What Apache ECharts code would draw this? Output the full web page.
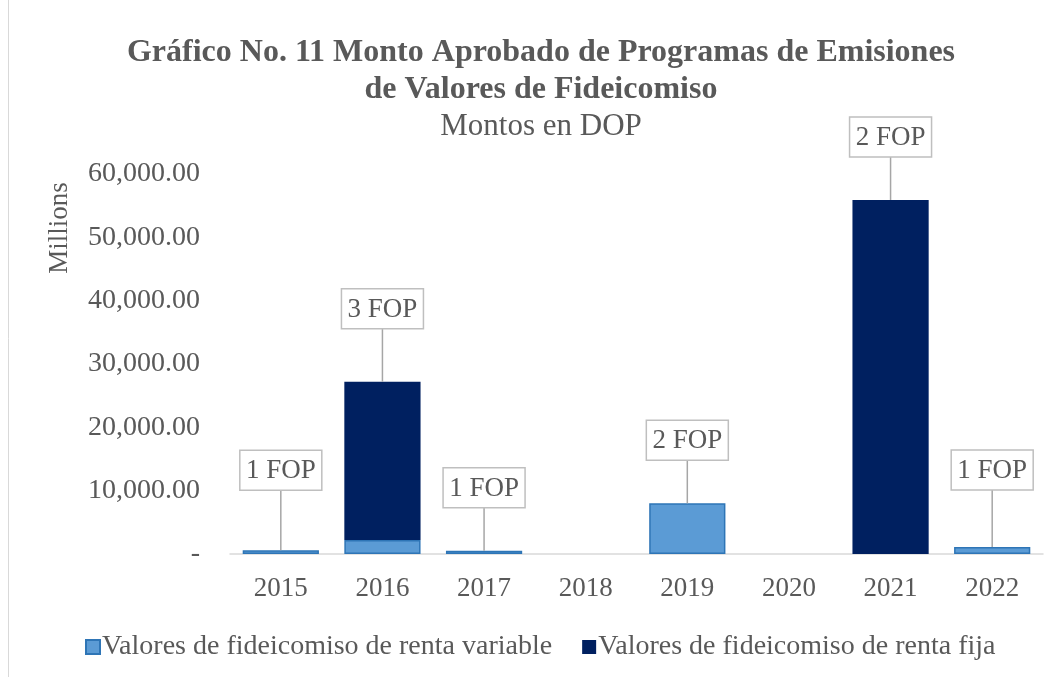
<!DOCTYPE html>
<html>
<head>
<meta charset="utf-8">
<script src="https://cdn.jsdelivr.net/npm/echarts@6/dist/echarts.min.js"></script>
<style>
  html, body { margin: 0; padding: 0; background: #fff; }
  #chart { width: 1050px; height: 677px; }
</style>
</head>
<body>
<div id="chart"></div>
<script>
  // datos (millones de DOP)
  var years = ["2015", "2016", "2017", "2018", "2019", "2020", "2021", "2022"];
  var rentaVariable = [600, 2200, 500, 0, 8000, 0, 0, 1100];
  var rentaFija = [0, 25000, 0, 0, 0, 0, 55900, 0];
  var fopLabels = ["1 FOP", "3 FOP", "1 FOP", "", "2 FOP", "", "2 FOP", "1 FOP"];
  var yTicks = [0, 10000, 20000, 30000, 40000, 50000, 60000];

  // largo de la línea guía de cada etiqueta (px)
  var calloutLen = [60, 53, 43, 0, 43, 0, 43, 57];

  var FONT = "'Liberation Serif', 'Times New Roman', serif";
  var GRAY = "#595959";

  function fmtTick(v) {
    if (v === 0) return "-";
    return v.toLocaleString("en-US", { minimumFractionDigits: 2, maximumFractionDigits: 2 });
  }

  function noZero(arr) {
    return arr.map(function (v) { return v === 0 ? null : v; });
  }

  var totals = years.map(function (y, i) {
    return [i, rentaVariable[i] + rentaFija[i]];
  });

  function renderCallout(params, api) {
    var idx = params.dataIndex;
    var text = fopLabels[idx];
    if (!text) return null;
    var pt = api.coord([api.value(0), api.value(1)]);
    var boxW = 82, boxH = 40;
    var bottom = pt[1] - calloutLen[idx];
    return {
      type: "group",
      children: [
        {
          type: "line",
          shape: { x1: pt[0], y1: pt[1], x2: pt[0], y2: bottom },
          style: { stroke: "#A6A6A6", lineWidth: 1.5 }
        },
        {
          type: "rect",
          shape: { x: pt[0] - boxW / 2, y: bottom - boxH, width: boxW, height: boxH },
          style: { fill: "#fff", stroke: "#BFBFBF", lineWidth: 1.5 }
        },
        {
          type: "text",
          x: pt[0],
          y: bottom - boxH / 2 + 1,
          style: {
            text: text,
            fill: GRAY,
            font: "27px " + FONT,
            align: "center",
            verticalAlign: "middle"
          }
        }
      ]
    };
  }

  var chart = echarts.init(document.getElementById("chart"), null, { renderer: "canvas" });

  chart.setOption({
    backgroundColor: "#fff",
    animation: false,
    title: [
      {
        text: "Gráfico No. 11 Monto Aprobado de Programas de Emisiones\nde Valores de Fideicomiso",
        left: 536,
        top: 29,
        textAlign: "center",
        textStyle: { fontFamily: FONT, fontSize: 32, fontWeight: "bold", color: GRAY, lineHeight: 37 }
      },
      {
        text: "Montos en DOP",
        left: 536,
        top: 105,
        textAlign: "center",
        textStyle: { fontFamily: FONT, fontSize: 31, fontWeight: "normal", color: GRAY, lineHeight: 34 }
      }
    ],
    graphic: [
      {
        type: "line",
        shape: { x1: 8.5, y1: 0, x2: 8.5, y2: 677 },
        style: { stroke: "#D9D9D9", lineWidth: 1 }
      },
      {
        type: "text",
        x: 60,
        y: 228,
        rotation: Math.PI / 2,
        style: {
          text: "Millions",
          fill: GRAY,
          font: "27px " + FONT,
          align: "center",
          verticalAlign: "middle"
        }
      }
    ],
    legend: {
      bottom: 11,
      left: 80,
      itemWidth: 14,
      itemHeight: 14,
      itemGap: 30,
      icon: "rect",
      textStyle: { fontFamily: FONT, fontSize: 28, color: GRAY, padding: [0, 0, 0, -3] },
      data: ["Valores de fideicomiso de renta variable", "Valores de fideicomiso de renta fija"]
    },
    grid: { left: 230, right: 7, top: 174, bottom: 123 },
    xAxis: {
      type: "category",
      data: years,
      axisTick: { show: false },
      axisLine: { lineStyle: { color: "#D9D9D9", width: 1.5 } },
      axisLabel: { fontFamily: FONT, fontSize: 27, color: GRAY, margin: 21 }
    },
    yAxis: {
      type: "value",
      min: 0,
      max: yTicks[yTicks.length - 1],
      interval: yTicks[1] - yTicks[0],
      splitLine: { show: false },
      axisLine: { show: false },
      axisTick: { show: false },
      axisLabel: { fontFamily: FONT, fontSize: 28, color: GRAY, margin: 30, formatter: fmtTick }
    },
    series: [
      {
        name: "Valores de fideicomiso de renta variable",
        type: "bar",
        stack: "total",
        barCategoryGap: "25%",
        data: noZero(rentaVariable),
        itemStyle: { color: "#5B9BD5", borderColor: "#2E75B6", borderWidth: 1.5 }
      },
      {
        name: "Valores de fideicomiso de renta fija",
        type: "bar",
        stack: "total",
        data: noZero(rentaFija),
        itemStyle: { color: "#002060", borderColor: "#002060", borderWidth: 0 }
      },
      {
        type: "custom",
        name: "callouts",
        renderItem: renderCallout,
        data: totals,
        z: 5,
        silent: true,
        clip: false
      }
    ]
  });
</script>
</body>
</html>
